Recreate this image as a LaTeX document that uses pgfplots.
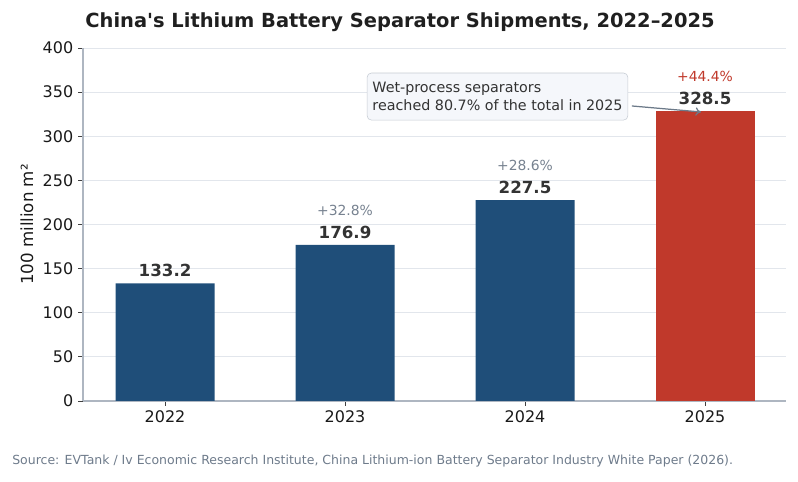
\documentclass[border=0pt]{standalone}
\usepackage{fontspec}
\setmainfont{DejaVu Sans}
\usepackage{pgfplots}
\pgfplotsset{compat=1.18}
\usetikzlibrary{arrows.meta}
\definecolor{navy}{HTML}{1F4E79}
\definecolor{brick}{HTML}{C0392B}
\definecolor{gridc}{HTML}{E2E6EC}
\definecolor{spine}{HTML}{AEB6C1}
\definecolor{pctgrey}{HTML}{778290}
\definecolor{valc}{HTML}{333333}
\definecolor{srcc}{HTML}{6E7B8B}
\definecolor{boxfill}{HTML}{F5F7FB}
\definecolor{boxdraw}{HTML}{C5CBD3}
\definecolor{arrc}{HTML}{6C7A89}
\begin{document}
\begin{tikzpicture}
\begin{axis}[
  name=ax, scale only axis, width=506.16pt, height=254.16pt,
  xmin=-0.456, xmax=3.45, ymin=0, ymax=400,
  xtick={0,1,2,3}, xticklabels={2022,2023,2024,2025},
  ytick={0,50,...,400},
  axis x line*=bottom, axis y line*=left,
  axis line style={spine, line width=0.8pt},
  tick style={black!75, line width=0.6pt}, tick align=outside, major tick length=3.5pt,
  ymajorgrids, grid style={gridc, line width=0.6pt},
  tick label style={font=\fontsize{11.5}{13}\selectfont, text=black!90},
  /pgf/number format/assume math mode=true,
  clip=false,
]
\addplot[ybar, bar width=0.55, bar shift=0pt, fill=navy, draw=none] coordinates {(0,133.2) (1,176.9) (2,227.5)};
\addplot[ybar, bar width=0.55, bar shift=0pt, fill=brick, draw=none] coordinates {(3,328.5)};
% value labels
\addplot[draw=none, mark=none, point meta=explicit symbolic, nodes near coords,
  every node near coord/.style={anchor=base, yshift=4.8pt, inner sep=0pt,
    font=\bfseries\fontsize{12}{14}\selectfont, text=valc}]
  table[meta=l] {
x y l
0 133.2 133.2
1 176.9 176.9
2 227.5 227.5
3 328.5 328.5
};
% growth labels
\addplot[draw=none, mark=none, point meta=explicit symbolic, nodes near coords,
  every node near coord/.style={anchor=base, yshift=21.5pt, inner sep=0pt,
    font=\fontsize{10}{12}\selectfont, text=pctgrey}]
  table[meta=l] {
x y l
1 176.9 {+32.8\%}
2 227.5 {+28.6\%}
};
\addplot[draw=none, mark=none, point meta=explicit symbolic, nodes near coords,
  every node near coord/.style={anchor=base, yshift=21.5pt, inner sep=0pt,
    font=\fontsize{10}{12}\selectfont, text=brick}]
  table[meta=l] {
x y l
3 328.5 {+44.4\%}
};
% annotation
\node[draw=boxdraw, fill=boxfill, rounded corners=3pt, align=left,
  font=\fontsize{10.3}{13}\selectfont, text=valc, inner xsep=3.8pt, inner ysep=6.6pt]
  at (axis cs:1.847,345) {Wet-process separators\\reached 80.7\% of the total in 2025};
\draw[-{To[length=4pt,width=6pt]}, arrc, line width=0.9pt] (axis cs:2.594,334.3) -- (axis cs:2.978,327.5);
% titles
\node[anchor=base, inner sep=0pt, font=\bfseries\fontsize{14}{16}\selectfont, text=black!88]
  at ([xshift=228.24pt,yshift=268.56pt]rel axis cs:0,0) {China\textquotesingle s Lithium Battery Separator Shipments, 2022–2025};
\node[anchor=center, rotate=90, font=\fontsize{12}{14}\selectfont, text=black!90]
  at ([xshift=-40.3pt]rel axis cs:0,0.5) {100 million m²};
\node[anchor=base west, inner sep=0pt, font=\fontsize{9}{11}\selectfont, text=srcc]
  at ([xshift=-51.12pt,yshift=-46.08pt]rel axis cs:0,0) {Source: EVTank / Iv Economic Research Institute, China Lithium-ion Battery Separator Industry White Paper (2026).};
\end{axis}
\pgfresetboundingbox
\path[use as bounding box] ([xshift=-59.76pt,yshift=-58.32pt]ax.south west) rectangle ([xshift=514.8pt,yshift=288.72pt]ax.south west);
\end{tikzpicture}
\end{document}
